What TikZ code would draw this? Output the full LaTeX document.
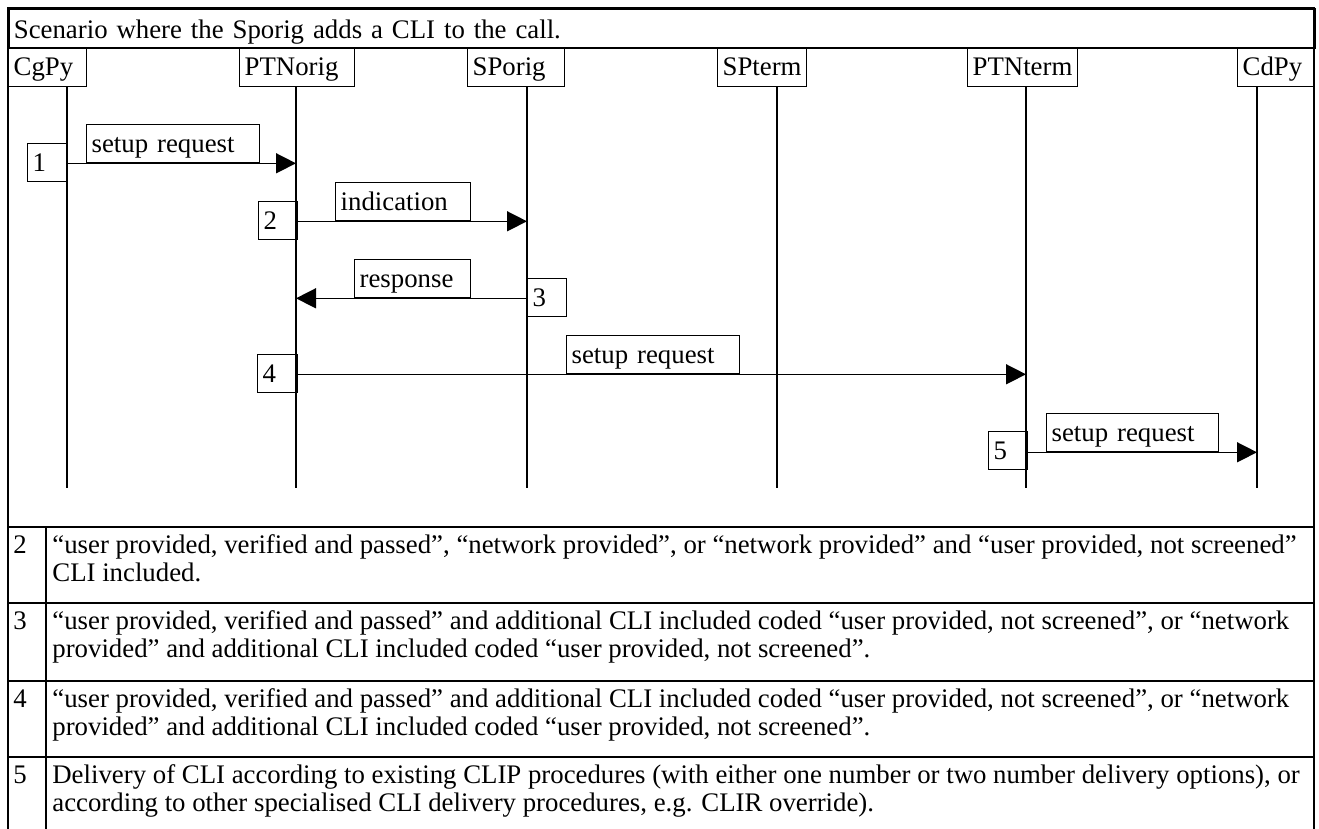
\documentclass[tikz,border=0pt]{standalone}
\usepackage{fontspec}
\setmainfont{Liberation Serif}
\usetikzlibrary{arrows.meta}
\hyphenpenalty=10000
\exhyphenpenalty=10000
\begin{document}
\begin{tikzpicture}[x=0.5pt,y=-0.5pt]
\tikzset{
  base/.style={font=\fontsize{13.4}{14.25}\selectfont},
  bx/.style={draw, line width=0.65pt, anchor=north west, inner xsep=2.5pt, inner ysep=0pt,
             text height=14pt, text depth=5pt, align=left, text width=#1, base},
  hdr/.style={bx=#1, text depth=5.5pt},
  life/.style={line width=0.9pt},
  msg/.style={line width=0.75pt, -{Triangle[length=10pt,width=10pt]}},
  frame/.style={line width=0.9pt},
  celltxt/.style={base, anchor=base west, inner sep=0pt, align=left},
}
\useasboundingbox (0,0) rectangle (1319,829);

% outer frame
\draw[frame] (8,829) -- (8,8) -- (1314,8) -- (1314,829);
\node[bx=648pt, text height=14.75pt, text depth=4.75pt, line width=0.9pt] (title) at (8,8)
  {Scenario where the Sporig adds a CLI to the call.};

% headers
\node[hdr=34pt]   (hCgPy)    at (8,47)    {CgPy};
\node[hdr=52.5pt] (hPTNorig) at (239,47)  {PTNorig};
\node[hdr=43.5pt] (hSPorig)  at (467,47)  {SPorig};
\node[hdr=39.5pt] (hSPterm)  at (717,47)  {SPterm};
\node[hdr=50pt]   (hPTNterm) at (967,47)  {PTNterm};
\node[hdr=33.5pt] (hCdPy)    at (1237,47) {CdPy};

% lifeline ends
\coordinate (eCgPy)    at (67,488);
\coordinate (ePTNorig) at (296,488);
\coordinate (eSPorig)  at (527,488);
\coordinate (eSPterm)  at (777,488);
\coordinate (ePTNterm) at (1026,488);
\coordinate (eCdPy)    at (1257,488);
\foreach \n in {CgPy,PTNorig,SPorig,SPterm,PTNterm,CdPy}
  \draw[life] (h\n.south -| e\n) -- (e\n);

% messages
\node[bx=81.5pt] (lab1) at (86,124)  {setup request};
\node[bx=14.5pt] (n1)   at (27,143)  {1};
\draw[msg] (eCgPy |- lab1.south) -- (ePTNorig |- lab1.south);

\node[bx=62.5pt] (lab2) at (335,182) {indication};
\node[bx=14.5pt] (n2)   at (258,201) {2};
\draw[msg] (ePTNorig |- lab2.south) -- (eSPorig |- lab2.south);

\node[bx=53pt]   (lab3) at (354,259) {response};
\node[bx=14.5pt] (n3)   at (527,278) {3};
\draw[msg] (eSPorig |- lab3.south) -- (ePTNorig |- lab3.south);

\node[bx=81.5pt] (lab4) at (566,335) {setup request};
\node[bx=15pt]   (n4)   at (257,354) {4};
\draw[msg] (ePTNorig |- lab4.south) -- (ePTNterm |- lab4.south);

\node[bx=81pt]   (lab5) at (1046,413) {setup request};
\node[bx=14.5pt] (n5)   at (988,431)  {5};
\draw[msg] (ePTNterm |- lab5.south) -- (eCdPy |- lab5.south);

% notes table
\draw[frame] (8,527) -- (1314,527);
\draw[frame] (8,603) -- (1314,603);
\draw[frame] (8,681) -- (1314,681);
\draw[frame] (8,757) -- (1314,757);
\draw[frame] (46,527) -- (46,829);

\node[celltxt] (r2n) at (13,553) {2};
\node[celltxt] (r2t) at (52,581.5) {“user provided, verified and passed”, “network provided”, or “network provided” and “user provided, not screened”\\CLI included.};
\node[celltxt] (r3n) at (13,629) {3};
\node[celltxt] (r3t) at (52,657.5) {“user provided, verified and passed” and additional CLI included coded “user provided, not screened”, or “network\\provided” and additional CLI included coded “user provided, not screened”.};
\node[celltxt] (r4n) at (13,707) {4};
\node[celltxt] (r4t) at (52,735.5) {“user provided, verified and passed” and additional CLI included coded “user provided, not screened”, or “network\\provided” and additional CLI included coded “user provided, not screened”.};
\node[celltxt] (r5n) at (13,783) {5};
\node[celltxt] (r5t) at (52,811.5) {Delivery of CLI according to existing CLIP procedures (with either one number or two number delivery options), or\\according to other specialised CLI delivery procedures, e.g. CLIR override).};
\end{tikzpicture}
\end{document}
